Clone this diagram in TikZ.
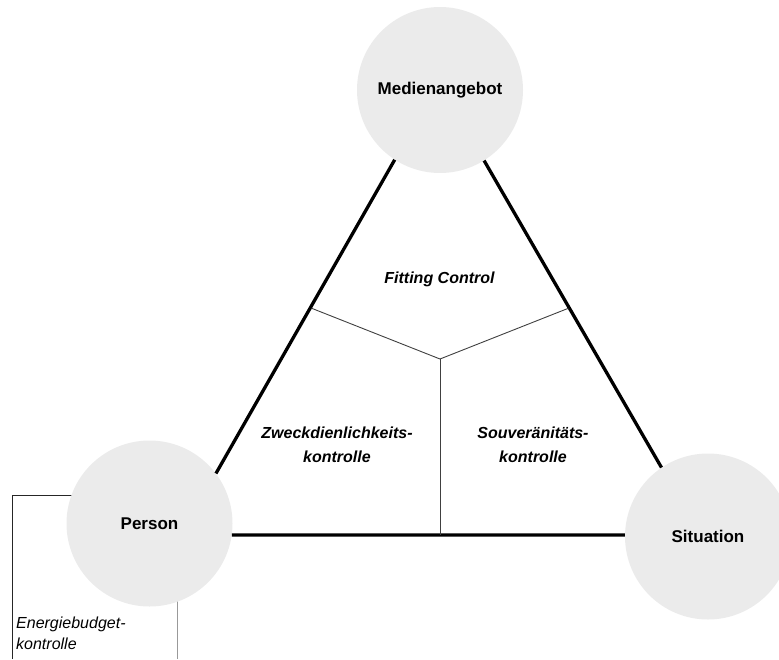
\documentclass[tikz,border=0pt]{standalone}
\usepackage{fontspec}
\setmainfont{Liberation Sans}
\begin{document}
\begin{tikzpicture}[x=1pt,y=-1pt,
  actor/.style={circle,fill=circfill,draw=none,minimum size=166pt,inner sep=0pt,
    font=\fontsize{17}{20}\selectfont\bfseries},
  thickline/.style={line width=3.3pt,black},
  thinline/.style={line width=0.9pt,black!75},
  label/.style={align=center,font=\fontsize{16}{23.5}\selectfont\bfseries\itshape},
  bracketdark/.style={line width=1.1pt,black!85},
  bracketlight/.style={line width=1.1pt,black!40}]
\definecolor{circfill}{HTML}{EBEBEB}
\useasboundingbox (0,0) rectangle (779,659);
% bracket lines (drawn before circles)
\coordinate (b1) at (12.3,659);
\coordinate (b2) at (12.3,495.3);
\coordinate (b3) at (100,495.3);
\coordinate (b4) at (177.3,560);
\coordinate (b5) at (177.3,659);
\draw[bracketdark] (b1) -- (b2) -- (b3);
\draw[bracketlight] (b4) -- (b5);
% circles
\node[actor] (M) at (440,90) {Medienangebot};
\node[actor] (P) at (149.5,523.5) {Person};
\node[actor] (S) at (708,536.5) {Situation};
% triangle
\draw[thickline] (M.237) -- (P.37);
\draw[thickline] (M.302.5) -- (S.124.5);
\draw[thickline] (P.-8) -- (S.179);
% inner division
\coordinate (c) at (440,359);
\coordinate (cl) at (311.7,308.3);
\coordinate (cr) at (568.3,308.3);
\coordinate (cb) at (440,535);
\draw[thinline] (cl) -- (c) -- (cr);
\draw[thinline] (c) -- (cb);
% labels
\node[label] (fc) at (439.5,279.5) {Fitting Control};
\node[label] (zk) at (337,445) {Zweckdienlichkeits-\\kontrolle};
\node[label] (sk) at (533,445) {Souveränitäts-\\kontrolle};
\node[align=left,anchor=west,inner sep=0pt,font=\fontsize{16}{21.5}\selectfont\itshape] (eb) at (16,633.5) {Energiebudget-\\kontrolle};
\end{tikzpicture}
\end{document}
